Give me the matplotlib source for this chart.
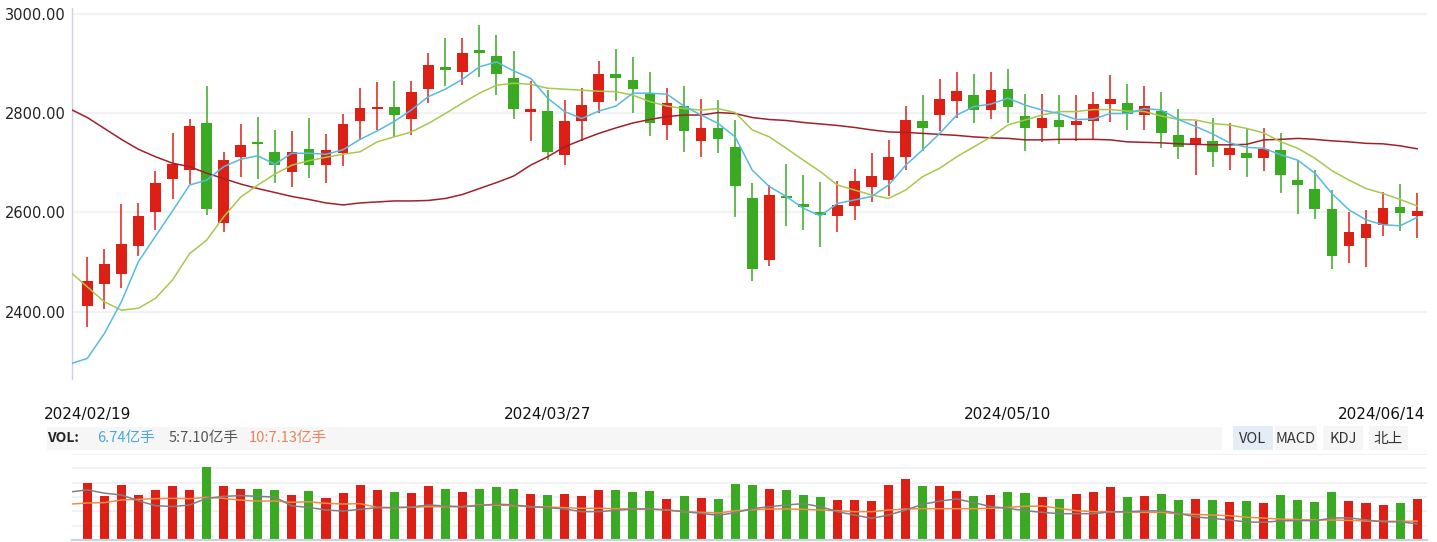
import numpy as np
import matplotlib
matplotlib.use('Agg')
import matplotlib.pyplot as plt
from matplotlib.patches import Rectangle
from matplotlib.transforms import blended_transform_factory
from matplotlib.ticker import FormatStrFormatter

# ---------------- data ----------------
date_labels = ['2024/02/19', '2024/03/27', '2024/05/10', '2024/06/14']
date_idx = [0, 27, 54, 78]
y_ticks = [2400, 2600, 2800, 3000]

opens = [2412, 2456, 2475, 2533, 2601, 2668, 2686, 2780, 2579, 2712,
         2741, 2722, 2682, 2728, 2696, 2720, 2783, 2808, 2812, 2789,
         2849, 2893, 2883, 2927, 2915, 2870, 2803, 2804, 2716, 2783,
         2823, 2879, 2866, 2840, 2775, 2814, 2744, 2770, 2732, 2629,
         2505, 2633, 2617, 2601, 2593, 2613, 2652, 2666, 2712, 2784,
         2797, 2825, 2836, 2807, 2848, 2794, 2769, 2786, 2775, 2783,
         2819, 2820, 2797, 2804, 2756, 2736, 2744, 2716, 2720, 2710,
         2726, 2665, 2647, 2607, 2533, 2549, 2575, 2611, 2593]
highs = [2510, 2526, 2617, 2619, 2683, 2760, 2788, 2854, 2722, 2778,
         2792, 2766, 2764, 2790, 2758, 2798, 2850, 2862, 2864, 2864,
         2921, 2951, 2951, 2977, 2957, 2925, 2864, 2846, 2826, 2850,
         2905, 2929, 2913, 2883, 2850, 2854, 2828, 2826, 2786, 2659,
         2655, 2697, 2675, 2661, 2663, 2687, 2720, 2746, 2814, 2836,
         2869, 2883, 2879, 2883, 2889, 2838, 2838, 2836, 2836, 2842,
         2877, 2858, 2854, 2842, 2808, 2784, 2790, 2780, 2770, 2770,
         2760, 2705, 2685, 2645, 2601, 2605, 2641, 2657, 2639]
lows = [2370, 2405, 2448, 2513, 2565, 2627, 2657, 2595, 2561, 2672,
        2668, 2660, 2652, 2670, 2660, 2694, 2746, 2766, 2752, 2756,
        2821, 2854, 2857, 2873, 2837, 2789, 2744, 2706, 2696, 2744,
        2801, 2825, 2801, 2754, 2746, 2722, 2712, 2720, 2591, 2462,
        2493, 2573, 2565, 2531, 2561, 2585, 2620, 2632, 2686, 2724,
        2764, 2790, 2779, 2789, 2779, 2724, 2742, 2738, 2744, 2746,
        2781, 2766, 2766, 2730, 2708, 2676, 2692, 2686, 2672, 2684,
        2640, 2597, 2587, 2485, 2499, 2491, 2553, 2563, 2549]
closes = [2462, 2496, 2536, 2593, 2659, 2697, 2774, 2607, 2705, 2736,
          2737, 2695, 2722, 2696, 2726, 2778, 2810, 2812, 2796, 2842,
          2897, 2887, 2921, 2921, 2879, 2809, 2808, 2722, 2784, 2816,
          2879, 2871, 2849, 2779, 2820, 2764, 2770, 2748, 2654, 2485,
          2635, 2629, 2611, 2595, 2615, 2663, 2673, 2711, 2786, 2769,
          2828, 2844, 2807, 2846, 2813, 2769, 2790, 2771, 2784, 2818,
          2828, 2799, 2814, 2760, 2732, 2750, 2722, 2730, 2710, 2728,
          2676, 2656, 2607, 2513, 2560, 2577, 2609, 2599, 2603]

# moving-average lines (first value = day before the first candle)
ma5 = [2295, 2306, 2356, 2420, 2501, 2552, 2603, 2655, 2665, 2692, 2707,
       2714, 2697, 2719, 2719, 2717, 2726, 2747, 2764, 2783, 2806,
       2833, 2848, 2868, 2893, 2903, 2885, 2870, 2830, 2803, 2789,
       2804, 2814, 2840, 2840, 2838, 2814, 2796, 2779, 2752, 2685,
       2652, 2632, 2608, 2593, 2618, 2625, 2632, 2655, 2695, 2726,
       2759, 2796, 2813, 2818, 2830, 2816, 2806, 2799, 2787, 2788,
       2799, 2799, 2809, 2806, 2787, 2773, 2758, 2740, 2731, 2729,
       2716, 2705, 2679, 2638, 2605, 2585, 2575, 2573, 2590]
ma10 = [2480, 2450, 2420, 2403, 2407, 2427, 2464, 2517, 2544, 2591, 2631,
        2655, 2677, 2695, 2704, 2711, 2717, 2722, 2742, 2752, 2762,
        2779, 2799, 2820, 2840, 2856, 2860, 2858, 2850, 2848, 2846,
        2844, 2843, 2836, 2823, 2814, 2809, 2806, 2809, 2801, 2766,
        2752, 2729, 2705, 2682, 2655, 2645, 2635, 2628, 2645, 2672,
        2689, 2712, 2732, 2752, 2776, 2786, 2796, 2803, 2803, 2807,
        2807, 2804, 2803, 2794, 2787, 2786, 2779, 2776, 2769, 2760,
        2742, 2729, 2709, 2684, 2665, 2648, 2638, 2626, 2613]
ma_long = [2808, 2791, 2769, 2747, 2727, 2712, 2699, 2692, 2679, 2668, 2657,
           2648, 2640, 2632, 2626, 2619, 2615, 2619, 2621, 2623, 2623,
           2624, 2628, 2636, 2648, 2660, 2673, 2695, 2712, 2732, 2746,
           2759, 2770, 2780, 2787, 2793, 2796, 2796, 2801, 2799, 2791,
           2787, 2785, 2781, 2778, 2775, 2771, 2766, 2762, 2761, 2759,
           2757, 2755, 2752, 2750, 2749, 2746, 2746, 2747, 2747, 2747,
           2746, 2742, 2741, 2740, 2738, 2737, 2736, 2736, 2737, 2746,
           2747, 2749, 2747, 2744, 2742, 2739, 2738, 2734, 2728]

# volume (亿手)
volumes = [9.38, 7.24, 9.05, 7.40, 8.22, 8.88, 8.22, 12.01, 8.88, 8.39,
           8.39, 8.22, 7.40, 8.06, 6.91, 7.73, 9.05, 8.22, 7.89, 7.73,
           8.88, 8.39, 7.89, 8.39, 8.72, 8.39, 7.57, 7.40, 7.57, 7.24,
           8.22, 8.22, 7.89, 8.06, 6.74, 7.24, 6.91, 6.74, 9.21, 9.05,
           8.39, 8.22, 7.40, 7.07, 6.58, 6.58, 6.41, 9.05, 10.03, 8.88,
           8.88, 8.06, 7.24, 7.40, 7.89, 7.73, 7.07, 6.74, 7.57, 7.89,
           8.72, 7.07, 7.24, 7.57, 6.58, 6.74, 6.58, 6.25, 6.41, 6.09,
           7.40, 6.58, 6.25, 7.89, 6.41, 6.09, 5.76, 6.09, 6.74]
vol_ma5 = [7.90, 8.25, 7.70, 7.40, 6.45, 5.65, 5.50, 5.76, 6.85, 7.18, 7.30,
           7.18, 7.07, 5.60, 5.37, 4.93, 4.77, 5.04, 5.32, 5.32, 5.43,
           5.76, 5.59, 5.48, 5.65, 5.92, 5.76, 5.48, 5.32, 5.10, 4.66,
           4.66, 4.88, 5.10, 5.10, 4.93, 4.66, 4.39, 4.06, 4.50, 5.15,
           5.48, 5.76, 5.98, 5.48, 4.66, 4.11, 3.56, 4.11, 4.93, 5.87,
           6.41, 6.74, 6.14, 5.48, 5.21, 4.82, 4.55, 4.33, 4.33, 4.33,
           4.61, 4.66, 4.77, 4.82, 4.39, 3.80, 3.55, 3.30, 2.95, 2.91,
           3.15, 3.18, 3.18, 3.60, 3.65, 3.30, 3.00, 3.00, 2.65]
vol_ma10 = [5.90, 6.09, 6.14, 6.58, 6.69, 6.80, 6.85, 6.80, 7.02, 6.85, 6.55,
            6.41, 6.41, 6.20, 6.30, 6.03, 5.92, 5.98, 5.37, 5.32, 5.37,
            5.48, 5.48, 5.48, 5.76, 5.76, 5.65, 5.48, 5.43, 5.32, 5.21,
            5.21, 5.15, 5.10, 5.10, 4.93, 4.66, 4.55, 4.44, 4.80, 4.98,
            5.10, 5.10, 5.04, 4.93, 4.82, 4.66, 4.66, 4.93, 5.10, 5.15,
            5.15, 5.15, 5.15, 5.21, 5.37, 5.54, 5.59, 5.21, 4.82, 4.66,
            4.66, 4.61, 4.55, 4.55, 4.30, 4.20, 4.10, 4.00, 3.75, 3.60,
            3.45, 3.35, 3.30, 3.29, 3.23, 3.13, 3.07, 3.07, 3.10]

vol_header = ['6.74亿手', '5:7.10亿手', '10:7.13亿手']
buttons = ['VOL', 'MACD', 'KDJ', '北上']

# ---------------- style ----------------
RED = '#dc2016'
GREEN = '#3aaa23'
C_MA5 = '#56bbe0'
C_MA10 = '#a6c84e'
C_LONG = '#a0202c'
C_VMA5 = '#808080'
C_VMA10 = '#f08c48'
GRID = '#f1f2f5'
AXIS = '#cad2e2'
CJK = ['Noto Sans CJK SC', 'DejaVu Sans']

W, H = 1437, 542
fig = plt.figure(figsize=(W / 100, H / 100), dpi=100)
fig.patch.set_facecolor('white')


def fx(x):
    return x / W


def fy(y):
    return 1 - y / H


L, R = 71.7, 1426.7
n = len(opens)
idx = np.arange(n)
o = np.array(opens, float)
c = np.array(closes, float)
hi = np.array(highs, float)
lo = np.array(lows, float)
up = c >= o
cols = np.where(up, RED, GREEN)

# ---------------- main candle axes ----------------
ax = fig.add_axes([fx(L), fy(379.3), (R - L) / W, (379.3 - 8.3) / H])
ax.set_xlim(-0.915, 78.56)
ax.set_ylim(2263.9, 3010.9)
for s in ['top', 'right', 'bottom']:
    ax.spines[s].set_visible(False)
ax.spines['left'].set_color(AXIS)
ax.spines['left'].set_linewidth(1.0)
ax.set_xticks([])
ax.set_yticks(y_ticks)
ax.yaxis.set_major_formatter(FormatStrFormatter('%.2f'))
ax.tick_params(axis='y', length=0, pad=4, labelsize=10.5, labelcolor='#222222')
ax.yaxis.grid(True, color=GRID, lw=1.6)
ax.set_axisbelow(True)

ax.vlines(idx, lo, hi, colors=cols, lw=1.1, zorder=2)
body_h = np.maximum(np.abs(c - o), 3.0)
ax.bar(idx, body_h, bottom=np.minimum(o, c), width=0.63, color=cols,
       linewidth=0, zorder=3)

xma = np.arange(-1, n)
ax.plot(xma, ma_long, color=C_LONG, lw=1.1, zorder=4)
ax.plot(xma, ma10, color=C_MA10, lw=1.1, zorder=4)
ax.plot(xma, ma5, color=C_MA5, lw=1.1, zorder=5)

# date labels
tr = blended_transform_factory(ax.transData, fig.transFigure)
for k, (i, lab) in enumerate(zip(date_idx, date_labels)):
    if k == len(date_idx) - 1:
        fig.text(fx(R - 1), fy(414.5), lab, ha='right', va='center',
                 fontsize=11, color='#111111')
    else:
        ax.text(i, fy(414.5), lab, transform=tr, ha='center', va='center',
                fontsize=11, color='#111111', clip_on=False)

# ---------------- header row ----------------
fig.patches.append(Rectangle((fx(46.7), fy(450)), (1221.7 - 46.7) / W, 23 / H,
                             transform=fig.transFigure, facecolor='#f6f6f6',
                             edgecolor='none', zorder=0))
fig.text(fx(47.5), fy(438), 'VOL:', ha='left', va='center', fontsize=10,
         fontweight='bold', color='#222222', family=CJK)
hx = [97, 169, 249]
hc = ['#4aa6d8', '#555555', '#e8845a']
for x0, t, cc in zip(hx, vol_header, hc):
    fig.text(fx(x0), fy(438), t, ha='left', va='center', fontsize=10.5,
             color=cc, family=CJK)

btn_l = [1232.7, 1275.0, 1322.7, 1369.0]
btn_r = [1272.7, 1316.7, 1363.0, 1408.0]
for k, (t, bl, br) in enumerate(zip(buttons, btn_l, btn_r)):
    fc = '#e4ecf7' if k == 0 else '#f5f5f5'
    fig.patches.append(Rectangle((fx(bl), fy(450)), (br - bl) / W, 24 / H,
                                 transform=fig.transFigure, facecolor=fc,
                                 edgecolor='none', zorder=0))
    fig.text(fx((bl + br) / 2), fy(439), t, ha='center', va='center',
             fontsize=10.5, color='#333333', family=CJK)

# ---------------- volume axes ----------------
vpx = 6.08  # pixels per 亿手
vtop = 86 / vpx
axv = fig.add_axes([fx(L), fy(540), (R - L) / W, 86 / H])
axv.set_xlim(-0.915, 78.56)
axv.set_ylim(0, vtop)
for s in ['top', 'right', 'left']:
    axv.spines[s].set_visible(False)
axv.spines['bottom'].set_color(AXIS)
axv.spines['bottom'].set_linewidth(1.6)
axv.set_xticks([])
axv.set_yticks(np.linspace(0, vtop, 7)[1:])
axv.tick_params(axis='y', length=0, labelleft=False)
axv.yaxis.grid(True, color=GRID, lw=1.4)
axv.set_axisbelow(True)
axv.bar(idx, volumes, width=0.53, color=cols, linewidth=0, zorder=2)
axv.plot(xma, vol_ma10, color=C_VMA10, lw=1.1, zorder=3)
axv.plot(xma, vol_ma5, color=C_VMA5, lw=1.1, zorder=3)

fig.savefig('out.png', dpi=100)
